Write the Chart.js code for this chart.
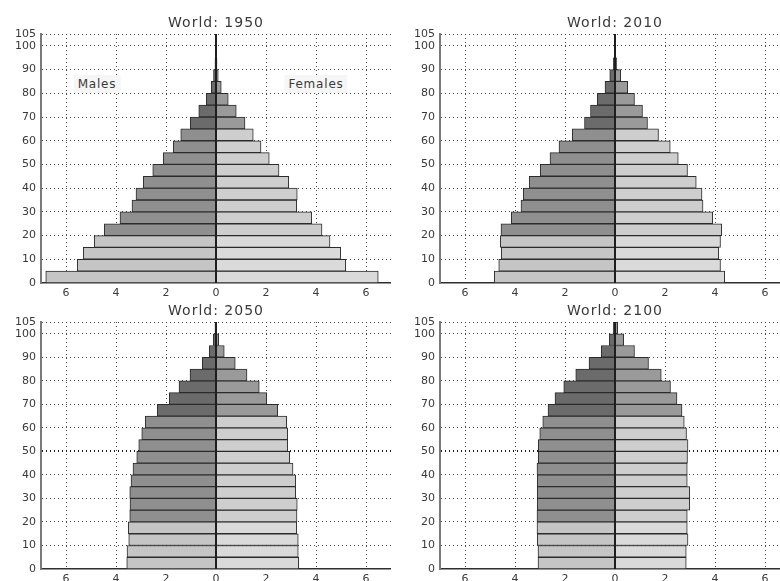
<!DOCTYPE html>
<html lang="en">
<head>
  <meta charset="UTF-8" />
  <title>World population pyramids</title>
  <script src="https://cdn.jsdelivr.net/npm/chart.js"></script>
  <style>
    html, body {
      margin: 0;
      padding: 0;
      background: #ffffff;
      overflow: hidden;
    }

    #wrap {
      position: relative;
      width: 780px;
      height: 581px;
      overflow: hidden;
      background: #ffffff;
    }

    .panel {
      position: absolute;
    }

    .title {
      position: absolute;
      transform: translate(-50%, -50%);
      font-family: "DejaVu Sans", sans-serif;
      font-size: 14px;
      letter-spacing: 1px;
      color: #3a3a3a;
      white-space: nowrap;
    }

    .sex {
      position: absolute;
      transform: translate(-50%, -50%);
      font-family: "DejaVu Sans", sans-serif;
      font-size: 12px;
      letter-spacing: 0.8px;
      color: #3a3a3a;
      background: #f6f6f6;
      padding: 2px 4px;
      white-space: nowrap;
    }
  </style>
</head>
<body>
  <div id="wrap"></div>

  <script>
    // age groups (5 year bands), share of population in %
    const ageStarts = [0, 5, 10, 15, 20, 25, 30, 35, 40, 45, 50, 55, 60, 65, 70, 75, 80, 85, 90, 95, 100];
    const yTicks = [0, 10, 20, 30, 40, 50, 60, 70, 80, 90, 100, 105];
    const xTicks = [-6, -4, -2, 0, 2, 4, 6];

    const males1950 = [6.81, 5.55, 5.31, 4.87, 4.47, 3.84, 3.36, 3.20, 2.91, 2.53, 2.11, 1.71, 1.41, 1.03, 0.69, 0.39, 0.19, 0.10, 0.04, 0.02, 0.01];
    const females1950 = [6.49, 5.19, 4.99, 4.56, 4.24, 3.83, 3.23, 3.25, 2.91, 2.52, 2.13, 1.80, 1.49, 1.16, 0.81, 0.49, 0.21, 0.09, 0.04, 0.02, 0.01];

    const males2010 = [4.83, 4.65, 4.55, 4.59, 4.56, 4.15, 3.76, 3.67, 3.43, 2.99, 2.60, 2.24, 1.71, 1.22, 0.98, 0.71, 0.40, 0.21, 0.07, 0.02, 0.01];
    const females2010 = [4.39, 4.22, 4.15, 4.22, 4.27, 3.91, 3.52, 3.48, 3.25, 2.90, 2.53, 2.21, 1.74, 1.30, 1.10, 0.78, 0.51, 0.23, 0.07, 0.03, 0.01];

    const males2050 = [3.57, 3.56, 3.49, 3.51, 3.45, 3.44, 3.45, 3.40, 3.32, 3.17, 3.09, 2.97, 2.83, 2.35, 1.87, 1.48, 1.04, 0.55, 0.27, 0.11, 0.04];
    const females2050 = [3.31, 3.29, 3.29, 3.23, 3.24, 3.25, 3.19, 3.19, 3.08, 2.95, 2.87, 2.87, 2.83, 2.47, 2.03, 1.73, 1.24, 0.77, 0.33, 0.11, 0.02];

    const males2100 = [3.08, 3.08, 3.11, 3.12, 3.12, 3.11, 3.11, 3.11, 3.12, 3.07, 3.07, 3.01, 2.89, 2.68, 2.40, 2.05, 1.57, 1.04, 0.55, 0.23, 0.07];
    const females2100 = [2.85, 2.85, 2.92, 2.89, 2.89, 2.99, 2.99, 2.89, 2.89, 2.90, 2.92, 2.86, 2.77, 2.68, 2.48, 2.22, 1.85, 1.34, 0.78, 0.35, 0.11];

    // colours: young (0-19), working age (20-64), old (65+)
    function maleColor(age) {
      if (age < 20) return '#c5c5c5';
      if (age < 65) return '#8f8f8f';
      return '#6b6b6b';
    }
    function femaleColor(age) {
      if (age < 20) return '#dadada';
      if (age < 65) return '#cecece';
      return '#9a9a9a';
    }

    const panels = [
      { year: 1950, males: males1950, females: females1950, left: 0, top: 0, width: 391, padTop: 34, axisH: 17, labels: true },
      { year: 2010, males: males2010, females: females2010, left: 399, top: 0, width: 391, padTop: 34, axisH: 17 },
      { year: 2050, males: males2050, females: females2050, left: 0, top: 300, width: 391, padTop: 22, axisH: 31, bold50: true },
      { year: 2100, males: males2100, females: females2100, left: 399, top: 300, width: 391, padTop: 22, axisH: 31, bold50: true }
    ];

    const tickFont = { family: 'DejaVu Sans', size: 11 };

    // vertical line at 0
    const centerLine = {
      id: 'centerLine',
      afterDatasetsDraw(chart) {
        const { ctx, chartArea, scales } = chart;
        const x = scales.x.getPixelForValue(0);
        ctx.save();
        ctx.strokeStyle = '#1e1e1e';
        ctx.lineWidth = 2;
        ctx.beginPath();
        ctx.moveTo(x, chartArea.top);
        ctx.lineTo(x, chartArea.bottom);
        ctx.stroke();
        ctx.restore();
      }
    };

    const wrap = document.getElementById('wrap');

    panels.forEach(p => {
      const canvas = document.createElement('canvas');
      canvas.className = 'panel';
      canvas.width = p.width;
      canvas.height = 300;
      canvas.style.left = p.left + 'px';
      canvas.style.top = p.top + 'px';
      wrap.appendChild(canvas);

      new Chart(canvas.getContext('2d'), {
        type: 'bar',
        data: {
          datasets: [{
            label: 'Males',
            data: ageStarts.map((a, i) => ({ y: a + 2.5, x: -p.males[i] })),
            backgroundColor: ageStarts.map(maleColor),
            borderColor: '#2b2b2b',
            borderWidth: 1,
            grouped: false,
            categoryPercentage: 1,
            barPercentage: 1
          }, {
            label: 'Females',
            data: ageStarts.map((a, i) => ({ y: a + 2.5, x: p.females[i] })),
            backgroundColor: ageStarts.map(femaleColor),
            borderColor: '#2b2b2b',
            borderWidth: 1,
            grouped: false,
            categoryPercentage: 1,
            barPercentage: 1
          }]
        },
        options: {
          indexAxis: 'y',
          responsive: false,
          animation: false,
          layout: { padding: { top: p.padTop, left: 0, right: 0, bottom: 0 } },
          plugins: {
            legend: { display: false },
            tooltip: { enabled: false }
          },
          scales: {
            x: {
              type: 'linear',
              min: -7,
              max: 7,
              offset: false,
              afterBuildTicks: s => { s.ticks = xTicks.map(v => ({ value: v })); },
              afterFit: s => { s.height = p.axisH; },
              ticks: {
                font: tickFont,
                color: '#3a3a3a',
                padding: 4,
                maxRotation: 0,
                callback: v => Math.abs(v)
              },
              grid: {
                offset: false,
                drawTicks: false,
                color: c => (c.tick && c.tick.value === 0) ? 'rgba(0,0,0,0)' : '#4a4a4a',
                lineWidth: 1
              },
              border: { color: '#2e2e2e', width: 1.5, dash: [1, 3] }
            },
            y: {
              type: 'linear',
              min: 0,
              max: 105,
              offset: false,
              afterBuildTicks: s => { s.ticks = yTicks.map(v => ({ value: v })); },
              afterFit: s => { s.width = 41; },
              ticks: {
                font: tickFont,
                color: '#3a3a3a',
                padding: 5,
                autoSkip: false
              },
              grid: {
                offset: false,
                drawTicks: false,
                color: c => {
                  if (!c.tick || c.tick.value === 0) return 'rgba(0,0,0,0)';
                  if (p.bold50 && c.tick.value === 50) return '#1e1e1e';
                  return '#4a4a4a';
                },
                lineWidth: c => (p.bold50 && c.tick && c.tick.value === 50) ? 2 : 1
              },
              border: { color: '#7a7a7a', width: 2, dash: [1, 3] }
            }
          }
        },
        plugins: [centerLine]
      });

      const title = document.createElement('div');
      title.className = 'title';
      title.textContent = 'World: ' + p.year;
      title.style.left = (p.left + 41 + (p.width - 41) / 2) + 'px';
      title.style.top = (p.top + p.padTop - 12) + 'px';
      wrap.appendChild(title);

      if (p.labels) {
        const m = document.createElement('div');
        m.className = 'sex';
        m.textContent = 'Males';
        m.style.left = (p.left + 97) + 'px';
        m.style.top = (p.top + 84) + 'px';
        wrap.appendChild(m);

        const f = document.createElement('div');
        f.className = 'sex';
        f.textContent = 'Females';
        f.style.left = (p.left + 316) + 'px';
        f.style.top = (p.top + 84) + 'px';
        wrap.appendChild(f);
      }
    });
  </script>
</body>
</html>
